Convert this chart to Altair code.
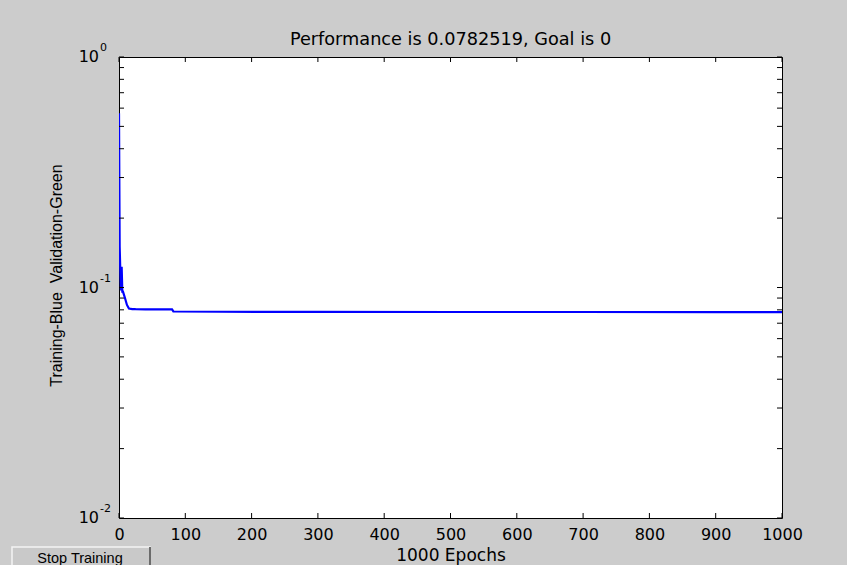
import altair as alt
import pandas as pd

# ---- data ----
epochs = [0, 1, 2, 3, 4, 5, 6, 9, 12, 15, 20, 25, 40, 60, 80, 82, 150, 300, 500, 700, 900, 1000]
perf = [0.57, 0.15, 0.118, 0.097, 0.123, 0.096, 0.096, 0.090, 0.084, 0.081, 0.0806, 0.0805,
        0.0804, 0.0803, 0.0803, 0.0787, 0.0785, 0.0784, 0.0783, 0.07828, 0.07826, 0.0782519]

x_ticks = [0, 100, 200, 300, 400, 500, 600, 700, 800, 900, 1000]
y_major = [0.01, 0.1, 1.0]
y_exps = ["-2", "-1", "0"]
y_minor = [0.02, 0.03, 0.04, 0.05, 0.06, 0.07, 0.08, 0.09,
           0.2, 0.3, 0.4, 0.5, 0.6, 0.7, 0.8, 0.9]

W, H = 663, 461
FONT = "DejaVu Sans"
FONT2 = "Liberation Sans"

xs = alt.Scale(domain=[0, 1000], nice=False, zero=False)
ys = alt.Scale(type="log", domain=[0.01, 1], nice=False)

xaxis = alt.Axis(values=x_ticks, format="d", ticks=False, domain=False, grid=False,
                 labelFlush=False, labelFontSize=16, labelColor="black", labelFont=FONT,
                 labelPadding=8, title="1000 Epochs", titleFontSize=17,
                 titleFont=FONT, titleFontWeight="normal", titleColor="black",
                 titlePadding=5)
yaxis = alt.Axis(labels=False, ticks=False, domain=False, grid=False,
                 title="Training-Blue\u00a0\u00a0Validation-Green", titleFontSize=16,
                 titleFont=FONT2, titleFontWeight="normal", titleColor="black",
                 titlePadding=55, titleY=218)

line_df = pd.DataFrame({"epoch": epochs, "perf": perf})
xt_df = pd.DataFrame({"t": x_ticks})
yt_df = pd.DataFrame({"t": y_major + y_minor})
ylab_df = pd.DataFrame({"t": y_major, "e": y_exps, "base": ["10"] * 3})

line = alt.Chart(line_df).mark_line(color="#0000ff", strokeWidth=2.2, clip=True).encode(
    x=alt.X("epoch:Q", scale=xs, axis=xaxis),
    y=alt.Y("perf:Q", scale=ys, axis=yaxis),
)

bot_ticks = alt.Chart(xt_df).mark_rule(color="black").encode(
    x=alt.X("t:Q", scale=xs, axis=xaxis), y=alt.value(H), y2=alt.value(H - 5))
top_ticks = alt.Chart(xt_df).mark_rule(color="black").encode(
    x=alt.X("t:Q", scale=xs, axis=xaxis), y=alt.value(0), y2=alt.value(5))
left_ticks = alt.Chart(yt_df).mark_rule(color="black").encode(
    y=alt.Y("t:Q", scale=ys, axis=yaxis), x=alt.value(0), x2=alt.value(5))
right_ticks = alt.Chart(yt_df).mark_rule(color="black").encode(
    y=alt.Y("t:Q", scale=ys, axis=yaxis), x=alt.value(W), x2=alt.value(W - 5))

ylab_base = alt.Chart(ylab_df).mark_text(
    align="right", baseline="middle", fontSize=16, font=FONT, color="black").encode(
    y=alt.Y("t:Q", scale=ys, axis=yaxis), x=alt.value(-20), text="base:N")
ylab_exp = alt.Chart(ylab_df).mark_text(
    align="left", baseline="middle", fontSize=11, font=FONT, color="black", dy=-9).encode(
    y=alt.Y("t:Q", scale=ys, axis=yaxis), x=alt.value(-19), text="e:N")

btn_df = pd.DataFrame({"label": ["Stop Training"]})
btn = alt.Chart(btn_df).mark_rect(fill="#c9c9c9", stroke="#f4f4f4", strokeWidth=1.5).encode(
    x=alt.value(-107), x2=alt.value(31), y=alt.value(490), y2=alt.value(515))
btn_edge = alt.Chart(btn_df).mark_rule(color="#404040", strokeWidth=1.5).encode(
    x=alt.value(31), y=alt.value(490), y2=alt.value(515))
btn_txt = alt.Chart(btn_df).mark_text(
    fontSize=14.5, font=FONT2, color="black", baseline="middle").encode(
    x=alt.value(-39), y=alt.value(502), text="label:N")

chart = alt.layer(
    line, bot_ticks, top_ticks, left_ticks, right_ticks, ylab_base, ylab_exp,
    btn, btn_edge, btn_txt
).properties(
    width=W, height=H,
    title=alt.TitleParams("Performance is 0.0782519, Goal is 0", fontSize=17.7, font=FONT,
                          fontWeight="normal", color="black", offset=-7),
    autosize=alt.AutoSizeParams(type="none"),
    padding={"left": 119, "top": 57, "right": 65, "bottom": 47},
).configure(background="#cccccc").configure_view(fill="white", stroke="black", strokeWidth=1)

chart.save("out.html", embed_options={"renderer": "svg", "actions": False})
